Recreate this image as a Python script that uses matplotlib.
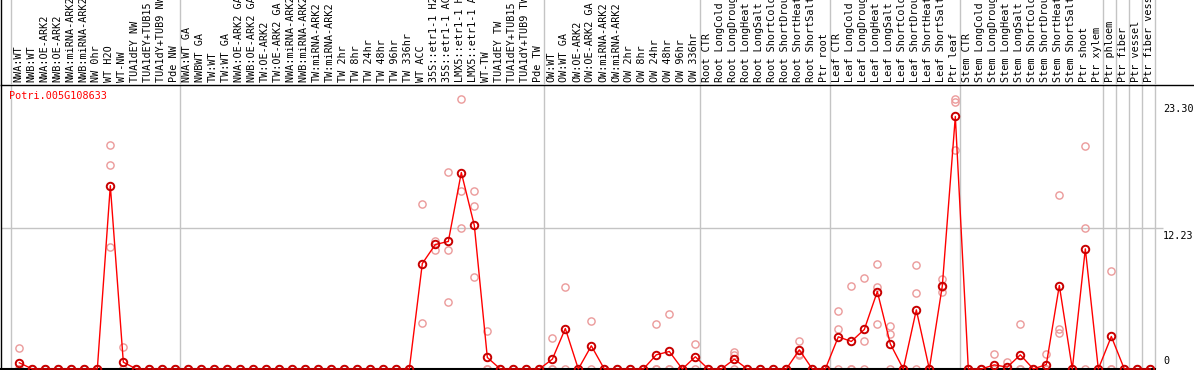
import matplotlib
matplotlib.use("Agg")
import matplotlib.pyplot as plt

gene = "Potri.005G108633"

labels = [
    "NWA:WT", "NWB:WT", "NWA:OE-ARK2", "NWB:OE-ARK2", "NWA:miRNA-ARK2", "NWB:miRNA-ARK2",
    "NW 0hr", "WT H2O", "WT-NW", "TUA1dEY NW", "TUA1dEY+TUB15 NW", "TUA1dY+TUB9 NW", "Pde NW",
    "NWA:WT GA", "NWBWT GA", "TW:WT", "TW:WT GA", "NWA:OE-ARK2 GA", "NWB:OE-ARK2 GA",
    "TW:OE-ARK2", "TW:OE-ARK2 GA", "NWA:miRNA-ARK2 GA", "NWB:miRNA-ARK2 GA", "TW:miRNA-ARK2",
    "TW:miRNA-ARK2", "TW 2hr", "TW 8hr", "TW 24hr", "TW 48hr", "TW 96hr", "TW 336hr", "WT ACC",
    "35S::etr1-1 H2O", "35S::etr1-1 ACC", "LMX5::etr1-1 H2O", "LMX5::etr1-1 ACC", "WT-TW",
    "TUA1dEY TW", "TUA1dEY+TUB15 TW", "TUA1dY+TUB9 TW", "Pde TW",
    "OW:WT", "OW:WT GA", "OW:OE-ARK2", "OW:OE-ARK2 GA", "OW:miRNA-ARK2", "OW:miRNA-ARK2",
    "OW 2hr", "OW 8hr", "OW 24hr", "OW 48hr", "OW 96hr", "OW 336hr",
    "Root CTR", "Root LongCold", "Root LongDrought", "Root LongHeat", "Root LongSalt",
    "Root ShortCold", "Root ShortDrought", "Root ShortHeat", "Root ShortSalt", "Ptr root",
    "Leaf CTR", "Leaf LongCold", "Leaf LongDrought", "Leaf LongHeat", "Leaf LongSalt",
    "Leaf ShortCold", "Leaf ShortDrought", "Leaf ShortHeat", "Leaf ShortSalt", "Ptr leaf",
    "Stem CTR", "Stem LongCold", "Stem LongDrought", "Stem LongHeat", "Stem LongSalt",
    "Stem ShortCold", "Stem ShortDrought", "Stem ShortHeat", "Stem ShortSalt", "Ptr shoot",
    "Ptr xylem", "Ptr phloem", "Ptr fiber", "Ptr vessel", "Ptr fiber vessel",
]

means = [
    0.54, 0, 0, 0, 0, 0, 0, 15.9, 0.59, 0, 0, 0, 0,
    0, 0, 0, 0, 0, 0, 0, 0, 0, 0, 0, 0, 0, 0, 0, 0, 0, 0,
    9.15, 10.8, 11.06, 17.04, 12.45, 1.0, 0, 0, 0, 0,
    0.85, 3.51, 0, 2.01, 0, 0, 0, 0, 1.23, 1.52, 0, 1.06,
    0, 0, 0.85, 0, 0, 0, 0, 1.66, 0, 0,
    2.79, 2.39, 3.43, 6.72, 2.18, 0, 5.13, 0, 7.21, 21.9,
    0, 0, 0.36, 0.16, 1.23, 0, 0.39, 7.24, 0, 10.42, 0,
    2.82, 0, 0, 0,
]

replicates = [
    [1.84, 0, 0], [0, 0, 0], [0, 0, 0], [0, 0, 0], [0, 0, 0], [0, 0, 0], [0, 0, 0],
    [19.4, 17.7, 10.6], [1.95, 0, 0], [0, 0, 0], [0, 0, 0], [0, 0, 0], [0, 0, 0],
    [0, 0], [0, 0], [0, 0], [0, 0], [0, 0], [0, 0], [0, 0], [0, 0], [0, 0], [0, 0],
    [0, 0], [0, 0], [0, 0], [0, 0], [0, 0], [0, 0], [0, 0], [0, 0],
    [14.27, 4.03], [11.14, 10.34], [17.1, 10.28, 5.77], [23.46, 15.48, 12.19],
    [15.4, 14.1, 8.02], [3.28, 0, 0], [0, 0], [0, 0], [0, 0], [0, 0],
    [2.7, 0, 0], [7.07, 0], [0, 0], [4.18, 0], [0, 0], [0, 0], [0, 0], [0, 0],
    [3.86, 0, 0], [4.81, 0, 0], [0, 0], [2.18, 0],
    [0, 0], [0, 0], [1.46, 1.2, 0], [0, 0], [0, 0], [0, 0], [0, 0], [2.47, 1.3, 1.2],
    [0, 0], [0, 0],
    [5.05, 3.49, 0], [7.24, 0, 0], [7.91, 2.39, 0], [9.15, 7.07, 3.86], [3.74, 3.05, 0],
    [0, 0], [9.06, 6.6, 0], [0, 0], [7.82, 6.72, 7.1], [23.4, 23.2, 19.0],
    [0, 0], [0, 0], [1.32, 0, 0], [0.59, 0, 0], [3.86, 0, 0], [0, 0], [1.34, 0, 0],
    [15.1, 3.45, 3.1], [0, 0], [19.3, 12.19, 0], [0, 0],
    [8.52, 0, 0], [0, 0], [0, 0], [0, 0],
]

group_bounds = [0, 13, 41, 53, 63, 73, 84, 85, 86, 87, 88]
yticks = [0, 12.23, 23.30]
ytick_labels = ["0", "12.23", "23.30"]

W, H, DPI = 1194, 370, 100
fig = plt.figure(figsize=(W / DPI, H / DPI), dpi=DPI)
mono = "DejaVu Sans Mono"
fsz = 7.3

# pixel geometry
px_left, px_right = 1, 1194
px_k0, px_step = 11, 13
x_lo = (px_left - px_k0) / px_step
x_hi = (px_right - px_k0) / px_step
y_top_px, y_bot_px = 85, 369
px_per_unit = 11.53
y_hi = (y_bot_px - y_top_px) / px_per_unit

ax = fig.add_axes([px_left / W, (H - y_bot_px) / H, (px_right - px_left) / W,
                   (y_bot_px - y_top_px) / H])
hx = fig.add_axes([px_left / W, (H - y_top_px) / H, (px_right - px_left) / W,
                   y_top_px / H])

for a in (ax, hx):
    a.set_xlim(x_lo, x_hi)
    a.set_xticks([])
    a.set_yticks([])
    a.patch.set_alpha(0)
    for s in a.spines.values():
        s.set_visible(False)
    a.spines["left"].set_visible(True)
    a.spines["left"].set_color("black")
    a.spines["left"].set_linewidth(1.0)

ax.set_ylim(0, y_hi)
hx.set_ylim(0, 1)
ax.spines["top"].set_visible(True)
ax.spines["top"].set_linewidth(1.0)
ax.spines["bottom"].set_visible(True)
ax.spines["bottom"].set_linewidth(1.5)
ax.spines["bottom"].set_bounds(x_lo, group_bounds[-1])

grid_c = "#c4c4c4"
for b in group_bounds:
    ax.axvline(b, color=grid_c, lw=1.0, zorder=0)
    hx.axvline(b, color=grid_c, lw=1.0, zorder=0)
ax.hlines(yticks[1], x_lo, group_bounds[-1] + 0.6, color=grid_c, lw=1.0, zorder=0)

xs = [i + 0.64 for i in range(len(labels))]

# replicates
for x, reps in zip(xs, replicates):
    ax.plot([x] * len(reps), reps, linestyle="none", marker="o", ms=5.2,
            mfc="none", mec="#eb9a9a", mew=1.0, clip_on=False, zorder=2)

ax.plot(xs, means, color="#ff0000", lw=1.0, zorder=3, clip_on=False)
ax.plot(xs, means, linestyle="none", marker="o", ms=5.4, mfc="none",
        mec="#c80000", mew=1.4, zorder=4, clip_on=False)

# category labels in header
for x, lab in zip(xs, labels):
    hx.text(x - 0.1, 0.03, lab, rotation=90, ha="center", va="bottom",
            fontsize=fsz, family=mono, color="black", clip_on=True)

# gene name
ax.text(8 / px_step + x_lo, y_hi - 6 / px_per_unit, gene, color="#ff0000",
        fontsize=fsz, family=mono, ha="left", va="top")

# y tick labels on the right
tick_x = (1163 - px_k0) / px_step
for v, t in zip(yticks, ytick_labels):
    if v == 0:
        ax.text(tick_x, v + 2.5 / px_per_unit, t, fontsize=fsz, family=mono,
                ha="left", va="bottom")
    else:
        ax.text(tick_x, v - 3.5 / px_per_unit, t, fontsize=fsz, family=mono,
                ha="left", va="top")

fig.savefig("out.png", dpi=DPI)
